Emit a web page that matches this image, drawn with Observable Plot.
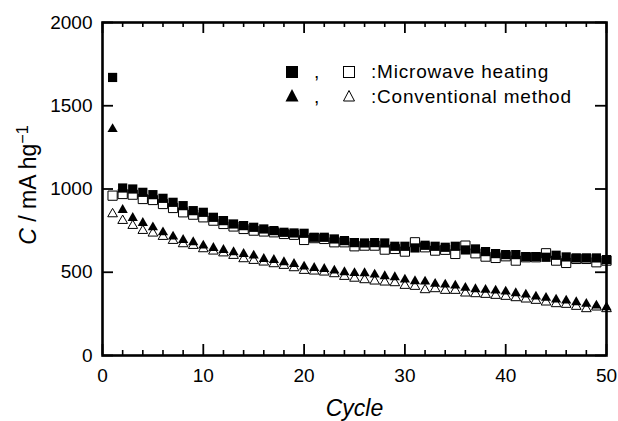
<!DOCTYPE html>
<html><head><meta charset="utf-8">
<script src="https://cdn.jsdelivr.net/npm/d3@7"></script>
<script src="https://cdn.jsdelivr.net/npm/@observablehq/plot@0.6"></script>
<style>
html,body{margin:0;padding:0;background:#fff;}
#wrap{position:relative;width:618px;height:421px;font-family:"Liberation Sans",Arial,Helvetica,sans-serif;}
#legend{position:absolute;left:0;top:0;pointer-events:none;}
#legend text{font-family:"Liberation Sans",Arial,Helvetica,sans-serif;font-size:19px;letter-spacing:0.8px;fill:#000;}
</style></head><body><div id="wrap"></div>
<script>
const cycles = [1,2,3,4,5,6,7,8,9,10,11,12,13,14,15,16,17,18,19,20,21,22,23,24,25,26,27,28,29,30,31,32,33,34,35,36,37,38,39,40,41,42,43,44,45,46,47,48,49,50];
const microwaveFilled = [1670,1006,1000,980,966,944,920,900,870,860,830,810,790,780,770,760,750,740,736,734,710,710,700,690,678,676,678,676,656,656,646,662,656,650,656,634,640,624,612,606,606,594,594,590,602,592,586,586,586,576];
const microwaveOpen = [960,970,966,940,934,910,886,860,846,830,810,790,775,760,750,745,740,730,725,694,705,700,680,680,656,660,660,636,640,624,680,650,630,635,610,660,614,594,586,596,570,590,590,614,570,556,580,580,560,570];
const conventionalFilled = [1360,874,826,796,770,740,714,694,680,660,646,634,620,610,600,580,574,560,550,534,526,520,510,500,495,494,486,476,470,456,446,444,430,426,420,406,398,394,390,384,374,366,354,346,336,330,320,310,300,290];
const conventionalOpen = [850,810,780,750,734,714,690,670,660,640,626,615,600,580,570,560,550,540,526,510,506,500,490,474,463,454,446,440,436,420,414,394,400,390,390,374,370,366,360,354,346,338,330,320,310,306,294,280,290,280];
const xMajorTicks = [0,10,20,30,40,50];
const xMinorTicks = [2,4,6,8,12,14,16,18,22,24,26,28,32,34,36,38,42,44,46,48];
const yMajorTicks = [0,500,1000,1500,2000];
const xLabel = "Cycle";
const yLabel = "C / mA hg\u22121";
const legendLabels = [":Microwave heating", ":Conventional method"];

const W = 618, H = 421, mL = 102, mR = 12, mT = 22, mB = 66;
const innerW = W - mL - mR, innerH = H - mT - mB;
const toRows = (vals) => cycles.map((c, i) => ({cycle: c, value: vals[i]}));

const font = '"Liberation Sans", Arial, Helvetica, sans-serif';
const plot = Plot.plot({
  width: W, height: H,
  marginLeft: mL, marginRight: mR, marginTop: mT, marginBottom: mB,
  x: {domain: [0, 50]},
  y: {domain: [0, 2000]},
  style: {fontFamily: font, fontSize: "19px", color: "#000", background: "#fff", overflow: "visible"},
  marks: [
    Plot.dot(toRows(microwaveOpen), {x: "cycle", y: "value", symbol: "square", r: 5.2, fill: "white", stroke: "black", strokeWidth: 1}),
    Plot.dot(toRows(conventionalOpen), {x: "cycle", y: "value", symbol: "triangle", r: 3.6, fill: "white", stroke: "black", strokeWidth: 1}),
    Plot.dot(toRows(microwaveFilled), {x: "cycle", y: "value", symbol: "square", r: 5.2, fill: "black", stroke: "none"}),
    Plot.dot(toRows(conventionalFilled), {x: "cycle", y: "value", symbol: "triangle", r: 3.8, fill: "black", stroke: "none"}),
    Plot.tickX(xMinorTicks, {x: d => d, insetTop: innerH - 5, strokeWidth: 1.6}),
    Plot.tickX(xMinorTicks, {x: d => d, insetBottom: innerH - 5, strokeWidth: 1.6}),
    Plot.tickX(xMajorTicks, {x: d => d, insetTop: innerH - 11, strokeWidth: 1.8}),
    Plot.tickX(xMajorTicks, {x: d => d, insetBottom: innerH - 11, strokeWidth: 1.8}),
    Plot.tickY(yMajorTicks, {y: d => d, insetRight: innerW - 11, strokeWidth: 1.8}),
    Plot.tickY(yMajorTicks, {y: d => d, insetLeft: innerW - 11, strokeWidth: 1.8}),
    Plot.axisX({ticks: xMajorTicks, tickSize: 0, tickPadding: 13, label: null, fontSize: 19, tickFormat: d => String(d)}),
    Plot.axisY({ticks: yMajorTicks, tickSize: 0, tickPadding: 10, label: null, fontSize: 19, tickFormat: d => String(d)}),
    Plot.frame({strokeWidth: 2.6, stroke: "black"}),
    Plot.text([xLabel], {frameAnchor: "bottom", dy: 60, fontSize: 23, fontStyle: "italic", fill: "black"}),
    Plot.text([yLabel], {frameAnchor: "left", dx: -74, dy: -4, rotate: -90, fontSize: 23, fill: "black", textAnchor: "middle"})
  ]
});

// superscript / italic styling for y label
d3.select(plot).selectAll("text").each(function () {
  if (this.textContent === yLabel) {
    const t = d3.select(this);
    t.text(null).attr("text-anchor", "middle");
    t.append("tspan").attr("font-style", "italic").text("C");
    t.append("tspan").text(" / mA hg");
    t.append("tspan").attr("font-size", "0.7em").attr("dy", "-0.5em").text("\u22121");
  }
});

const wrap = document.getElementById("wrap");
wrap.appendChild(plot);

// legend overlay
const lg = d3.select(wrap).append("svg").attr("id", "legend").attr("width", W).attr("height", H);
const rowsY = [77.5, 102.5];
lg.append("rect").attr("x", 286).attr("y", 66).attr("width", 12).attr("height", 12).attr("fill", "black");
lg.append("text").attr("x", 314).attr("y", rowsY[0]).text(",");
lg.append("rect").attr("x", 343.5).attr("y", 66.5).attr("width", 11).attr("height", 11).attr("fill", "white").attr("stroke", "black").attr("stroke-width", 1);
lg.append("text").attr("x", 371).attr("y", rowsY[0]).text(legendLabels[0]);
lg.append("path").attr("d", "M292,89L285.5,101.5L298.5,101.5Z").attr("fill", "black");
lg.append("text").attr("x", 314).attr("y", rowsY[1]).text(",");
lg.append("path").attr("d", "M349,90.5L343.5,101L354.5,101Z").attr("fill", "white").attr("stroke", "black").attr("stroke-width", 1);
lg.append("text").attr("x", 371).attr("y", rowsY[1]).text(legendLabels[1]);
</script></body></html>
